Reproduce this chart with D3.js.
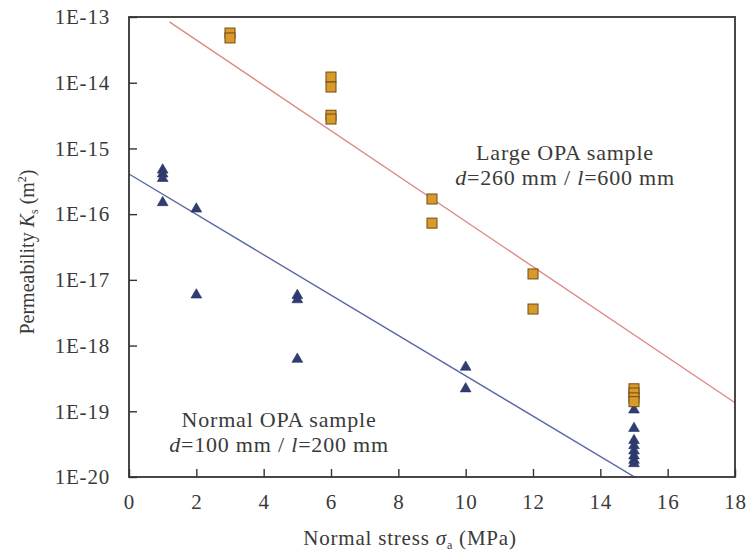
<!DOCTYPE html>
<html><head><meta charset="utf-8">
<script src="https://cdn.jsdelivr.net/npm/d3@7/dist/d3.min.js"></script>
<style>
body{margin:0;background:#fff;}
text{font-family:"Liberation Serif","Times New Roman",serif;fill:#3a3a3a;}
</style></head>
<body><svg id="c" width="749" height="551"></svg>
<script>
// Large OPA sample (d=260 mm / l=600 mm)
const largeStress = [3, 3, 6, 6, 6, 6, 9, 9, 12, 12, 15, 15, 15, 15];
const largeK = [5.7e-14, 4.8e-14, 1.22e-14, 8.6e-15, 3.2e-15, 2.8e-15, 1.7e-16, 7.3e-17, 1.23e-17, 3.6e-18, 2.2e-19, 1.9e-19, 1.6e-19, 1.4e-19];
// Normal OPA sample (d=100 mm / l=200 mm)
const normalStress = [1, 1, 1, 1, 2, 2, 5, 5, 5, 10, 10, 15, 15, 15, 15, 15, 15, 15, 15];
const normalK = [4.7e-16, 4.1e-16, 3.5e-16, 1.5e-16, 1.2e-16, 5.9e-18, 5.8e-18, 5.0e-18, 6.2e-19, 4.7e-19, 2.2e-19, 1.05e-19, 5.5e-20, 3.6e-20, 3.0e-20, 2.5e-20, 2.1e-20, 1.8e-20, 1.6e-20];
// Exponential fits: log10(K) = intercept + slope * stress, drawn over range
const largeFit = {intercept: -12.66, slope: -0.345, from: 1.2, to: 18};
const normalFit = {intercept: -15.39, slope: -0.307, from: 0, to: 18};
const xTicks = [0, 2, 4, 6, 8, 10, 12, 14, 16, 18];
const yTicks = [1e-13, 1e-14, 1e-15, 1e-16, 1e-17, 1e-18, 1e-19, 1e-20];
const yTickLabels = ["1E-13", "1E-14", "1E-15", "1E-16", "1E-17", "1E-18", "1E-19", "1E-20"];

const svg = d3.select("#c");
const m = {l: 129, r: 735, t: 17, b: 477};
const x = d3.scaleLinear().domain([0, 18]).range([m.l, m.r]);
const y = d3.scaleLog().domain([1e-20, 1e-13]).range([m.b, m.t]);

svg.append("defs").append("clipPath").attr("id", "clip")
  .append("rect").attr("x", m.l).attr("y", m.t).attr("width", m.r - m.l).attr("height", m.b - m.t);

// fit lines
function fitPts(f) {
  return [f.from, f.to].map(s => [s, Math.pow(10, f.intercept + f.slope * s)]);
}
const line = d3.line().x(d => x(d[0])).y(d => y(d[1]));
const g = svg.append("g").attr("clip-path", "url(#clip)");
g.append("path").attr("d", line(fitPts(largeFit))).attr("stroke", "#dc8a86").attr("stroke-width", 1.4).attr("fill", "none");
g.append("path").attr("d", line(fitPts(normalFit))).attr("stroke", "#5c68a6").attr("stroke-width", 1.4).attr("fill", "none");

// markers
const tri = d3.symbol().type(d3.symbolTriangle).size(50);
svg.append("g").selectAll("path").data(normalStress.map((s, i) => [s, normalK[i]])).join("path")
  .attr("d", tri).attr("transform", d => `translate(${x(d[0])},${y(d[1])})`)
  .attr("fill", "#2f3d72").attr("stroke", "#243060").attr("stroke-width", 0.6);
svg.append("g").selectAll("rect").data(largeStress.map((s, i) => [s, largeK[i]])).join("rect")
  .attr("x", d => x(d[0]) - 5).attr("y", d => y(d[1]) - 5).attr("width", 10).attr("height", 10)
  .attr("fill", "#d99a2b").attr("stroke", "#6e4c12").attr("stroke-width", 1);

// frame
svg.append("rect").attr("x", m.l).attr("y", m.t).attr("width", m.r - m.l).attr("height", m.b - m.t)
  .attr("fill", "none").attr("stroke", "#333").attr("stroke-width", 1.8);

// axes
const xa = svg.append("g").attr("transform", `translate(0,${m.b})`)
  .call(d3.axisBottom(x).tickValues(xTicks).tickSize(-8).tickPadding(17).tickFormat(d3.format("d")));
const ya = svg.append("g").attr("transform", `translate(${m.l},0)`)
  .call(d3.axisLeft(y).tickValues(yTicks).tickSize(-8).tickPadding(19).tickFormat((d, i) => yTickLabels[i]));
[xa, ya].forEach(a => {
  a.select(".domain").remove();
  a.selectAll("line").attr("stroke", "#333").attr("stroke-width", 1.4);
  a.selectAll("text").attr("font-size", 21).attr("letter-spacing", 0.8)
    .style("font-family", '"Liberation Serif",serif').attr("fill", "#3a3a3a");
});

// axis titles
const xt = svg.append("text").attr("x", 410).attr("y", 545).attr("text-anchor", "middle")
  .attr("font-size", 21).attr("letter-spacing", 0.8);
xt.append("tspan").text("Normal stress ");
xt.append("tspan").attr("font-style", "italic").text("σ");
xt.append("tspan").attr("font-size", 12).attr("dy", 4).text("a");
xt.append("tspan").attr("dy", -4).text(" (MPa)");

const yt = svg.append("text").attr("transform", "translate(34,252) rotate(-90)").attr("text-anchor", "middle").attr("font-size", 20);
yt.append("tspan").text("Permeability ");
yt.append("tspan").attr("font-style", "italic").text("K");
yt.append("tspan").attr("font-size", 12).attr("dy", 4).text("s");
yt.append("tspan").attr("dy", -4).text(" (m");
yt.append("tspan").attr("font-size", 12).attr("dy", -8).text("2");
yt.append("tspan").attr("dy", 8).text(")");

// annotations
function ann(cx, y1, title, dv, lv) {
  svg.append("text").attr("x", cx).attr("y", y1).attr("text-anchor", "middle")
    .attr("font-size", 22).attr("letter-spacing", 0.8).text(title);
  const t = svg.append("text").attr("x", cx).attr("y", y1 + 25).attr("text-anchor", "middle")
    .attr("font-size", 22).attr("letter-spacing", 0.8);
  t.append("tspan").attr("font-style", "italic").text("d");
  t.append("tspan").text("=" + dv + " mm / ");
  t.append("tspan").attr("font-style", "italic").text("l");
  t.append("tspan").text("=" + lv + " mm");
}
ann(565, 160, "Large OPA sample", 260, 600);
ann(279, 427, "Normal OPA sample", 100, 200);
</script></body></html>
